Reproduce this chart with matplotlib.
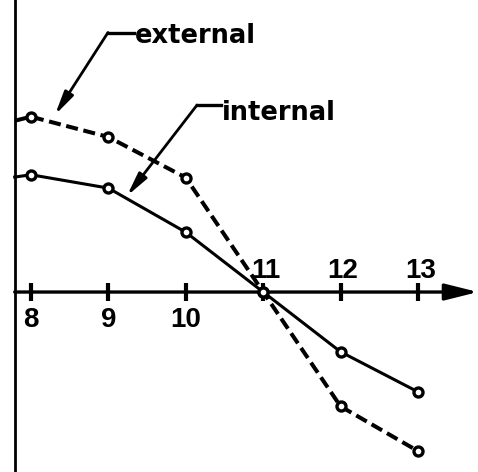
import matplotlib
matplotlib.use("Agg")
import matplotlib.pyplot as plt

# data (x = hour tick, y in arbitrary units, axis at 0)
x_vals = [7.79, 8, 9, 10, 11, 12, 13]
external = [2.95, 3.02, 2.67, 1.97, 0.0, -1.97, -2.74]
internal = [1.98, 2.02, 1.79, 1.03, 0.0, -1.03, -1.72]
ticks_below = [8, 9, 10]
ticks_above = [11, 12, 13]
tick_labels_below = ["8", "9", "10"]
tick_labels_above = ["11", "12", "13"]

fig = plt.figure(figsize=(4.78, 4.72), dpi=100)
ax = fig.add_axes([0, 0, 1, 1])
ax.set_xlim(7.6, 13.775)
ax.set_ylim(-3.10, 5.03)
ax.axis("off")

# left border
ax.axvline(7.795, color="black", lw=2)

# x axis with arrow
ax.annotate("", xy=(13.775, 0), xytext=(7.79, 0),
            arrowprops=dict(arrowstyle="-|>,head_length=1.0,head_width=0.25",
                            lw=2.4, color="black", mutation_scale=20,
                            shrinkA=0, shrinkB=0))

# tick marks
for t in ticks_below + ticks_above:
    ax.plot([t, t], [-0.16, 0.16], color="black", lw=3, solid_capstyle="butt")

for t, lab in zip(ticks_below, tick_labels_below):
    ax.text(t, -0.48, lab, ha="center", va="center", fontsize=20,
            family="Liberation Sans", fontweight="bold", color="black")
for t, lab in zip(ticks_above, tick_labels_above):
    ax.text(t + 0.03, 0.36, lab, ha="center", va="center", fontsize=20,
            family="Liberation Sans", fontweight="bold", color="black")

mk = list(range(1, len(x_vals)))
ax.plot(x_vals, external, color="black", lw=2.9, ls=(0, (3.0, 1.4)),
        marker="o", markersize=6.5, mfc="white", mec="black", mew=2.4,
        markevery=mk, zorder=3)
ax.plot(x_vals, internal, color="black", lw=2.2, ls="-",
        marker="o", markersize=6.5, mfc="white", mec="black", mew=2.4,
        markevery=mk, zorder=3)

# labels with leader arrows
ax.text(9.344, 4.29, "external", ha="left", va="baseline", fontsize=18.5,
        fontweight="bold", family="DejaVu Sans", color="black")
ax.plot([8.995, 9.33], [4.47, 4.47], color="black", lw=2.4)
ax.annotate("", xy=(8.31, 3.05), xytext=(8.995, 4.47),
            arrowprops=dict(arrowstyle="-|>,head_length=1.4,head_width=0.3",
                            lw=2.0, color="black", mutation_scale=10,
                            shrinkA=0, shrinkB=0))

ax.text(10.468, 2.97, "internal", ha="left", va="baseline", fontsize=18.5,
        fontweight="bold", family="DejaVu Sans", color="black")
ax.plot([10.145, 10.45], [3.22, 3.22], color="black", lw=2.4)
ax.annotate("", xy=(9.24, 1.655), xytext=(10.145, 3.22),
            arrowprops=dict(arrowstyle="-|>,head_length=1.4,head_width=0.3",
                            lw=2.0, color="black", mutation_scale=10,
                            shrinkA=0, shrinkB=0))

fig.savefig("out.png", dpi=100, facecolor="white")
